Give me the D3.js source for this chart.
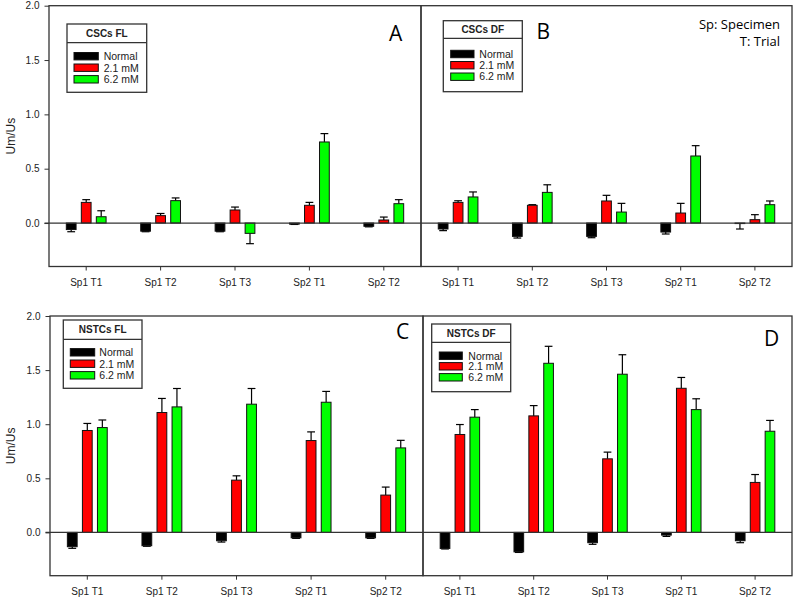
<!DOCTYPE html>
<html>
<head>
<meta charset="utf-8">
<script src="https://cdn.jsdelivr.net/npm/d3@7"></script>
<style>
  html, body { margin: 0; padding: 0; background: #fff; }
  svg { display: block; }
</style>
</head>
<body>
<svg id="chart" width="800" height="600"></svg>
<script>
// ---------- DATA ----------
const categories = ["Sp1 T1", "Sp1 T2", "Sp1 T3", "Sp2 T1", "Sp2 T2"];
const seriesNames = ["Normal", "2.1 mM", "6.2 mM"];
const seriesColors = ["#000000", "#ff0000", "#00ff00"];
const yTicks = [0.0, 0.5, 1.0, 1.5, 2.0];
const yDomain = [-0.4, 2.0];
const yLabel = "Um/Us";

// Panel A: CSCs FL
const A_normal = [-0.060, -0.075, -0.075, -0.010, -0.030];
const A_normalErr = [0.020, 0.005, 0.005, 0.003, 0.005];
const A_21 = [0.190, 0.068, 0.120, 0.163, 0.028];
const A_21Err = [0.025, 0.020, 0.027, 0.027, 0.027];
const A_62 = [0.058, 0.206, -0.095, 0.746, 0.178];
const A_62Err = [0.055, 0.025, 0.095, 0.077, 0.037];

// Panel B: CSCs DF
const B_normal = [-0.055, -0.123, -0.123, -0.083, -0.005];
const B_normalErr = [0.015, 0.015, 0.012, 0.018, 0.050];
const B_21 = [0.190, 0.163, 0.203, 0.092, 0.031];
const B_21Err = [0.015, 0.006, 0.052, 0.089, 0.046];
const B_62 = [0.240, 0.282, 0.101, 0.617, 0.169];
const B_62Err = [0.046, 0.070, 0.080, 0.095, 0.034];

// Panel C: NSTCs FL
const C_normal = [-0.132, -0.123, -0.077, -0.050, -0.050];
const C_normalErr = [0.015, 0.005, 0.012, 0.005, 0.005];
const C_21 = [0.942, 1.108, 0.483, 0.849, 0.345];
const C_21Err = [0.065, 0.130, 0.040, 0.080, 0.074];
const C_62 = [0.969, 1.160, 1.185, 1.203, 0.781];
const C_62Err = [0.070, 0.170, 0.145, 0.100, 0.070];

// Panel D: NSTCs DF
const D_normal = [-0.148, -0.180, -0.095, -0.025, -0.077];
const D_normalErr = [0.005, 0.005, 0.015, 0.012, 0.018];
const D_21 = [0.905, 1.077, 0.680, 1.332, 0.462];
const D_21Err = [0.092, 0.095, 0.062, 0.100, 0.073];
const D_62 = [1.065, 1.563, 1.462, 1.135, 0.935];
const D_62Err = [0.070, 0.157, 0.180, 0.100, 0.100];

const panelTitles = ["CSCs FL", "CSCs DF", "NSTCs FL", "NSTCs DF"];
const panelLetters = ["A", "B", "C", "D"];
const noteLines = ["Sp: Specimen", "T: Trial"];

// ---------- LAYOUT ----------
const panels = [
  { title: panelTitles[0], letter: panelLetters[0],
    vals: [A_normal, A_21, A_62], errs: [A_normalErr, A_21Err, A_62Err],
    x0: 49, x1: 421, yTop: 5.7, yBot: 266.5, yAxis: true,
    legend: { x: 67, y: 24, w: 79.7, h: 68.3, div: 18.7, sx: 7, sw: 24.3, lx: 36.7, rows: [32.2, 43.7, 55.3] },
    letterPos: [389, 40.5] },
  { title: panelTitles[1], letter: panelLetters[1],
    vals: [B_normal, B_21, B_62], errs: [B_normalErr, B_21Err, B_62Err],
    x0: 421, x1: 792, yTop: 5.7, yBot: 266.5, yAxis: false,
    legend: { x: 443.3, y: 20.7, w: 79, h: 71, div: 17.6, sx: 7.4, sw: 23.3, lx: 36, rows: [33.3, 44.5, 56] },
    letterPos: [536.5, 38.5] },
  { title: panelTitles[2], letter: panelLetters[2],
    vals: [C_normal, C_21, C_62], errs: [C_normalErr, C_21Err, C_62Err],
    x0: 50, x1: 423, yTop: 316, yBot: 575.7, yAxis: true,
    legend: { x: 63.3, y: 320, w: 78.7, h: 68.3, div: 19.3, sx: 7, sw: 24.4, lx: 36, rows: [32.3, 43.7, 55.3] },
    letterPos: [396, 338.5] },
  { title: panelTitles[3], letter: panelLetters[3],
    vals: [D_normal, D_21, D_62], errs: [D_normalErr, D_21Err, D_62Err],
    x0: 423, x1: 792, yTop: 316, yBot: 575.7, yAxis: false,
    legend: { x: 431.7, y: 324, w: 79, h: 67.7, div: 18.3, sx: 7.6, sw: 23, lx: 36.6, rows: [31.7, 42.3, 53.3] },
    letterPos: [764, 346] }
];

const svg = d3.select("#chart");
const frameColor = "#333";
const textColor = "#222";
const sansFont = "'Liberation Sans', Arial, sans-serif";

panels.forEach((p, pi) => {
  const g = svg.append("g");
  const x = d3.scaleBand().domain(categories).range([p.x0, p.x1])
    .paddingInner(0.395).paddingOuter(0.1975);
  const xs = d3.scaleBand().domain(seriesNames).range([0, x.bandwidth()])
    .paddingInner(0.35).paddingOuter(0.175);
  const y = d3.scaleLinear().domain(yDomain).range([p.yBot, p.yTop]);

  // bars
  p.vals.forEach((arr, si) => {
    const data = arr.map((v, i) => ({ c: categories[i], v, e: p.errs[si][i] }));
    const grp = g.append("g");
    const capW = xs.bandwidth() * 0.8;
    data.forEach(d => {
      const cx = x(d.c) + xs(seriesNames[si]) + xs.bandwidth() / 2;
      const tip = d.v >= 0 ? d.v + d.e : d.v - d.e;
      grp.append("line").attr("x1", cx).attr("x2", cx)
        .attr("y1", y(d.v)).attr("y2", y(tip))
        .attr("stroke", "#000").attr("stroke-width", 1.2);
      grp.append("line").attr("x1", cx - capW / 2).attr("x2", cx + capW / 2)
        .attr("y1", y(tip)).attr("y2", y(tip))
        .attr("stroke", "#000").attr("stroke-width", 1.2);
    });
    grp.selectAll("rect").data(data).join("rect")
      .attr("x", d => x(d.c) + xs(seriesNames[si]))
      .attr("width", xs.bandwidth())
      .attr("y", d => Math.min(y(d.v), y(0)))
      .attr("height", d => Math.max(Math.abs(y(d.v) - y(0)), 0.5))
      .attr("fill", seriesColors[si])
      .attr("stroke", "#111").attr("stroke-width", 1);
  });

  // zero line
  g.append("line")
    .attr("x1", p.yAxis ? p.x0 - 4.5 : p.x0).attr("x2", p.x1)
    .attr("y1", y(0)).attr("y2", y(0))
    .attr("stroke", frameColor).attr("stroke-width", 1.2);

  // frame
  g.append("rect").attr("x", p.x0).attr("y", p.yTop)
    .attr("width", p.x1 - p.x0).attr("height", p.yBot - p.yTop)
    .attr("fill", "none").attr("stroke", frameColor).attr("stroke-width", 1.3);

  // x axis
  const xAxis = d3.axisBottom(x).tickSize(4).tickSizeOuter(0).tickPadding(8);
  const xg = g.append("g").attr("transform", `translate(0,${p.yBot})`).call(xAxis);
  xg.select(".domain").remove();
  xg.selectAll(".tick line").attr("stroke", frameColor);
  xg.selectAll(".tick text").attr("fill", textColor)
    .style("font-family", sansFont).style("font-size", "10px");

  // y axis
  if (p.yAxis) {
    const yAxis = d3.axisLeft(y).tickValues(yTicks).tickFormat(d3.format(".1f"))
      .tickSize(4.5).tickSizeOuter(0).tickPadding(5);
    const yg = g.append("g").attr("transform", `translate(${p.x0},0)`).call(yAxis);
    yg.select(".domain").remove();
    yg.selectAll(".tick line").attr("stroke", frameColor);
    yg.selectAll(".tick text").attr("fill", textColor)
      .style("font-family", sansFont).style("font-size", "10px");
    g.append("text")
      .attr("transform", `translate(15,${(p.yTop + p.yBot) / 2}) rotate(-90)`)
      .attr("text-anchor", "middle")
      .attr("fill", textColor)
      .style("font-family", sansFont).style("font-size", "12px")
      .text(yLabel);
  }

  // legend
  const L = p.legend;
  const lg = g.append("g").attr("transform", `translate(${L.x},${L.y})`);
  lg.append("rect").attr("width", L.w).attr("height", L.h)
    .attr("fill", "#fff").attr("stroke", frameColor).attr("stroke-width", 1.3);
  lg.append("line").attr("x1", 0).attr("x2", L.w).attr("y1", L.div).attr("y2", L.div)
    .attr("stroke", frameColor).attr("stroke-width", 1.3);
  lg.append("text").attr("x", L.w / 2).attr("y", L.div / 2 + 3.6)
    .attr("text-anchor", "middle").attr("fill", textColor)
    .style("font-family", sansFont).style("font-size", "10px")
    .style("font-weight", "bold")
    .text(p.title);
  seriesNames.forEach((s, si) => {
    lg.append("rect").attr("x", L.sx).attr("y", L.rows[si] - 3.7)
      .attr("width", L.sw).attr("height", 7.4)
      .attr("fill", seriesColors[si]).attr("stroke", "#111").attr("stroke-width", 1);
    lg.append("text").attr("x", L.lx).attr("y", L.rows[si] + 3.8)
      .attr("fill", textColor)
      .style("font-family", sansFont).style("font-size", "10.5px")
      .text(s);
  });

  // panel letter
  g.append("text").attr("x", p.letterPos[0]).attr("y", p.letterPos[1])
    .attr("fill", "#000")
    .style("font-family", "'Open Sans', 'Noto Sans', sans-serif").style("font-size", "21px")
    .text(p.letter);
});

// note
noteLines.forEach((t, i) => {
  svg.append("text").attr("x", 780).attr("y", 29 + i * 17)
    .attr("text-anchor", "end").attr("fill", "#000")
    .style("font-family", "'Open Sans', 'Noto Sans', sans-serif").style("font-size", "13px")
    .text(t);
});
</script>
</body>
</html>
